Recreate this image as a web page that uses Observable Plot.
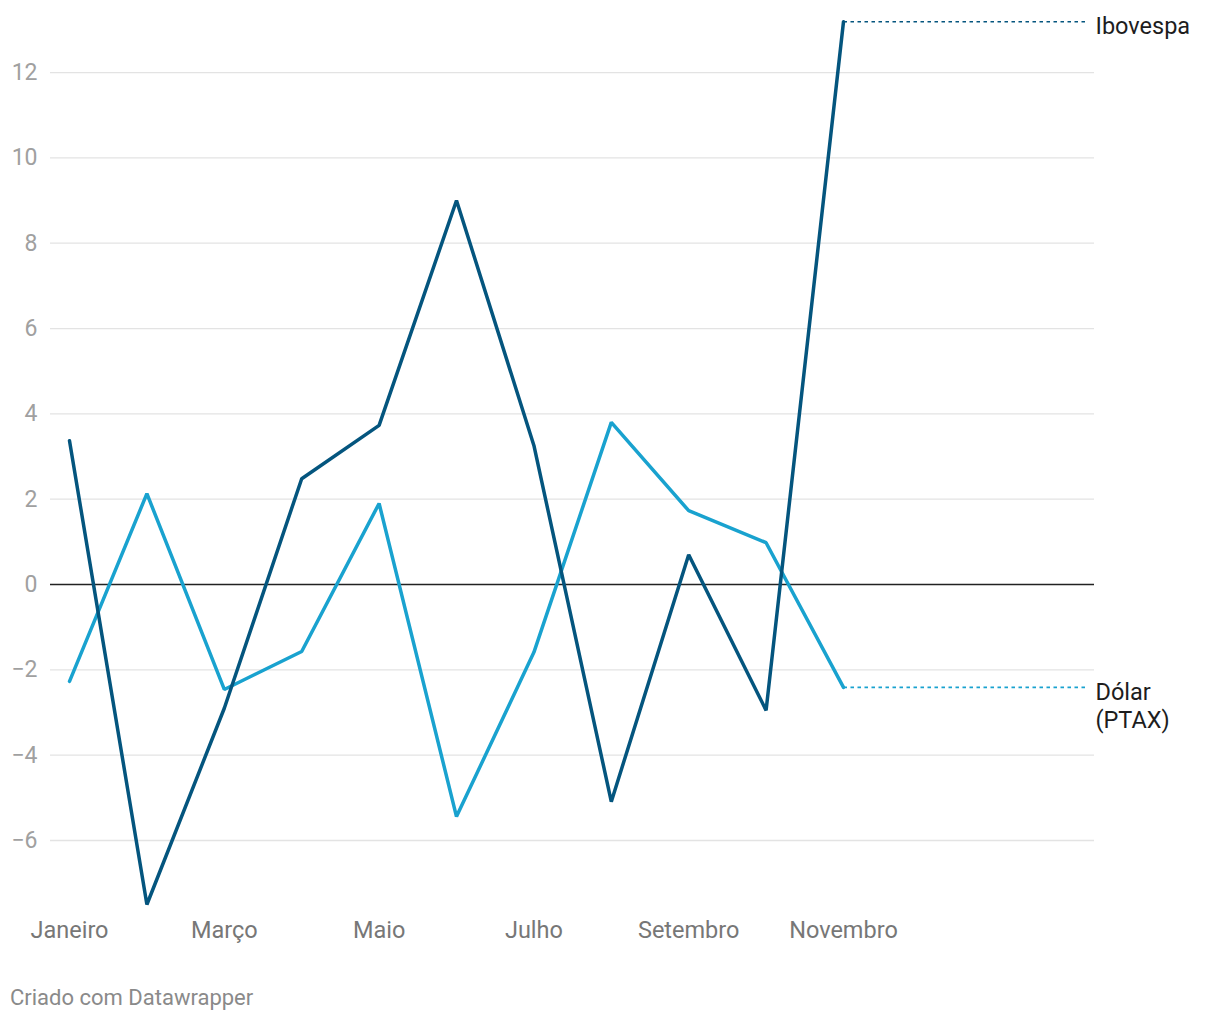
<!DOCTYPE html>
<html>
<head>
<meta charset="utf-8">
<script src="https://cdn.jsdelivr.net/npm/d3@7"></script>
<script src="https://cdn.jsdelivr.net/npm/@observablehq/plot@0.6"></script>
<style>
  html, body { margin: 0; padding: 0; background: #fff; }
  body { font-family: Roboto, "Noto Sans", sans-serif; width: 1220px; }
  #caption { font-family: Roboto, sans-serif; font-size: 22px; color: #8a8a8a; margin: 25px 0 0 10px; }
</style>
</head>
<body>
<div id="chart"></div>
<div id="caption">Criado com Datawrapper</div>
<script>
const months = ["Janeiro","Fevereiro","Março","Abril","Maio","Junho","Julho","Agosto","Setembro","Outubro","Novembro"];
const ibovespa = [3.37, -7.5, -2.9, 2.48, 3.73, 9.0, 3.26, -5.09, 0.70, -2.95, 13.19];
const dolar = [-2.27, 2.13, -2.46, -1.57, 1.90, -5.44, -1.59, 3.80, 1.73, 0.98, -2.41];
const tickMonths = ["Janeiro","Março","Maio","Julho","Setembro","Novembro"];
const yTicks = [-6, -4, -2, 0, 2, 4, 6, 8, 10, 12];
const seriesNames = ["Ibovespa", "Dólar\n(PTAX)"];
const colors = ["#04557e", "#19a2cf"];

const rows = [];
months.forEach((m, i) => {
  rows.push({series: seriesNames[0], i, value: ibovespa[i]});
  rows.push({series: seriesNames[1], i, value: dolar[i]});
});
const last = months.length - 1;
const xMax = 13.243;
const ext = [
  {series: seriesNames[0], x1: last, x2: 13.16, value: ibovespa[last]},
  {series: seriesNames[1], x1: last, x2: 13.16, value: dolar[last]}
];

const chart = Plot.plot({
  width: 1220,
  height: 960,
  marginLeft: 50,
  marginRight: 126,
  marginTop: 20,
  marginBottom: 56,
  style: {fontFamily: "Roboto, sans-serif", background: "#fff"},
  x: {domain: [-0.2455, xMax], axis: null},
  y: {domain: [-7.5, 13.22], axis: null},
  color: {domain: seriesNames, range: colors},
  marks: [
    Plot.ruleY(yTicks.filter(d => d !== 0), {stroke: "#e3e3e3", strokeWidth: 1.3}),
    Plot.text(yTicks, {
      x: -0.2455, y: d => d, text: d => d < 0 ? "\u2212" + Math.abs(d) : String(d),
      textAnchor: "end", dx: -13, fill: "#a0a0a0", fontSize: 23
    }),
    Plot.text(tickMonths, {
      x: d => months.indexOf(d), y: -7.5, text: d => d,
      dy: 26, fill: "#777", fontSize: 23.5
    }),
    Plot.ruleY([0], {stroke: "#222", strokeWidth: 1.6}),
    Plot.link(ext, {
      x1: "x1", x2: "x2", y1: "value", y2: "value", stroke: "series",
      strokeWidth: 1.6, strokeDasharray: "3.5,3.5"
    }),
    Plot.line(rows.filter(r => r.series === seriesNames[1]), {
      x: "i", y: "value", stroke: "series", strokeWidth: 3.5, strokeLinejoin: "miter"
    }),
    Plot.line(rows.filter(r => r.series === seriesNames[0]), {
      x: "i", y: "value", stroke: "series", strokeWidth: 3.5, strokeLinejoin: "miter"
    }),
    Plot.text([ext[0]], {
      x: xMax, y: "value", text: "series", textAnchor: "start",
      dx: 1, dy: 5, fill: "#1d1d1d", fontSize: 23.5
    }),
    Plot.text([ext[1]], {
      x: xMax, y: "value", text: "series", textAnchor: "start", lineAnchor: "top",
      lineHeight: 1.22, dx: 1, dy: -8, fill: "#1d1d1d", fontSize: 23.5
    })
  ]
});
document.getElementById("chart").appendChild(chart);
</script>
</body>
</html>
